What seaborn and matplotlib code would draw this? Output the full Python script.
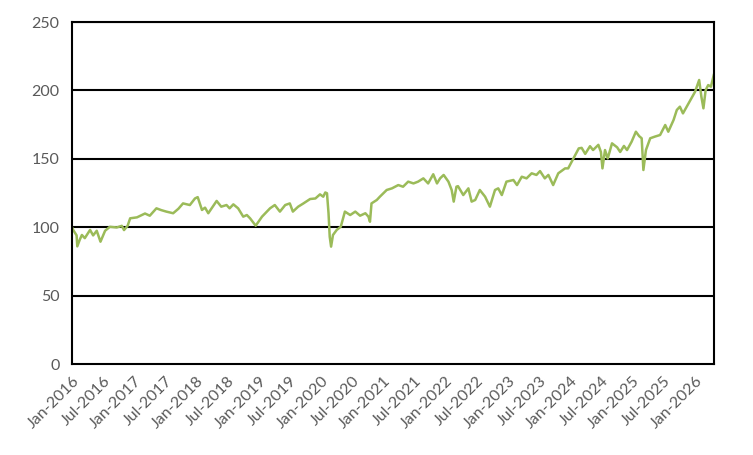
import matplotlib
matplotlib.use("Agg")
import matplotlib.pyplot as plt
import matplotlib.dates as mdates
import seaborn as sns
import pandas as pd

dates = [
    "2016-01-01", "2016-01-08", "2016-01-28", "2016-02-01", "2016-02-16", "2016-02-28",
    "2016-03-16", "2016-04-16", "2016-05-04", "2016-05-25", "2016-06-16", "2016-07-13",
    "2016-08-10", "2016-09-19", "2016-10-19", "2016-11-01", "2016-11-22", "2016-12-07",
    "2017-01-16", "2017-02-13", "2017-03-04", "2017-04-01", "2017-05-10", "2017-06-07",
    "2017-07-07", "2017-08-16", "2017-09-16", "2017-10-13", "2017-11-22", "2017-12-22",
    "2018-01-07", "2018-02-01", "2018-02-19", "2018-03-10", "2018-04-28", "2018-05-25",
    "2018-06-25", "2018-07-13", "2018-08-04", "2018-09-01", "2018-10-01", "2018-10-22",
    "2018-11-10", "2018-12-13", "2019-01-19", "2019-03-07", "2019-04-04", "2019-05-04",
    "2019-06-04", "2019-07-01", "2019-07-19", "2019-08-19", "2019-09-19", "2019-10-28",
    "2019-11-28", "2019-12-25", "2020-01-13", "2020-01-25", "2020-02-04", "2020-02-13",
    "2020-02-20", "2020-02-28", "2020-03-10", "2020-04-01", "2020-04-25", "2020-05-19",
    "2020-06-19", "2020-07-19", "2020-08-16", "2020-09-16", "2020-10-04", "2020-10-13",
    "2020-10-22", "2020-11-22", "2020-12-10", "2021-01-19", "2021-02-19", "2021-03-28",
    "2021-04-25", "2021-05-25", "2021-06-25", "2021-07-22", "2021-08-22", "2021-09-19",
    "2021-10-19", "2021-11-10", "2021-11-28", "2021-12-19", "2022-01-16", "2022-02-04",
    "2022-02-16", "2022-03-04", "2022-03-13", "2022-04-13", "2022-05-13", "2022-06-01",
    "2022-06-22", "2022-07-19", "2022-08-19", "2022-09-16", "2022-10-16", "2022-11-04",
    "2022-11-25", "2022-12-22", "2023-02-01", "2023-02-22", "2023-03-22", "2023-04-19",
    "2023-05-19", "2023-06-16", "2023-07-07", "2023-08-04", "2023-08-25", "2023-09-22",
    "2023-10-22", "2023-12-01", "2023-12-19", "2024-01-19", "2024-02-19", "2024-03-07",
    "2024-03-28", "2024-04-25", "2024-05-13", "2024-06-13", "2024-06-28", "2024-07-07",
    "2024-07-22", "2024-08-07", "2024-09-01", "2024-10-01", "2024-10-19", "2024-11-10",
    "2024-11-28", "2024-12-25", "2025-01-19", "2025-02-07", "2025-02-22", "2025-03-04",
    "2025-03-19", "2025-04-13", "2025-05-10", "2025-06-10", "2025-07-10", "2025-07-28",
    "2025-08-28", "2025-09-16", "2025-10-04", "2025-10-22", "2025-11-13", "2025-12-10",
    "2026-01-01", "2026-01-25", "2026-02-07", "2026-02-19", "2026-03-04", "2026-03-19",
    "2026-04-04", "2026-04-22",
]
values = [
    100, 98, 94, 86, 91, 94.3,
    92, 98, 94, 97.4, 89.4, 97.4,
    100.3, 99.8, 101, 97.9, 101, 106.5,
    107.2, 108.9, 110, 108.4, 113.8, 112.5,
    111.4, 110.2, 113.5, 117.4, 116.2, 121,
    122, 112.6, 114.3, 110.2, 119.2, 115,
    116.2, 113.8, 116.7, 113.8, 107.7, 108.9,
    106.5, 101.1, 107.7, 113.8, 116.2, 111.4,
    116.2, 117.4, 111.4, 115, 117.4, 120.6,
    121, 124, 122.3, 125.4, 124.8, 110.2,
    93, 85.8, 94.3, 98, 100.4, 111.4,
    108.9, 111.4, 108.4, 110.2, 107.7, 104,
    117.4, 119.9, 122.3, 127.2, 128.4, 130.8,
    129.6, 133.3, 132, 133.3, 135.7, 132,
    138.7, 132, 135.7, 138.2, 133.3, 127.2,
    118.7, 129.6, 130, 123.5, 128.4, 118.7,
    119.9, 127.2, 122.3, 115, 127.2, 128.4,
    123.5, 133.3, 134.5, 130.8, 136.9, 135.7,
    139.4, 138.2, 141, 135.7, 138.2, 130.8,
    139.4, 143, 143, 150.3, 157.6, 158,
    153.6, 159.2, 156.4, 160.2, 155, 143,
    156.4, 150.3, 161.3, 158.4, 155, 159.4,
    156.4, 162.5, 169.8, 166.6, 165, 141.8,
    156.4, 165, 166.2, 167.4, 174.7, 169.8,
    178.4, 185.7, 188.1, 183.2, 188.1, 194.2,
    199, 207.6, 195.4, 186.9, 200.2, 203.9,
    202.7, 212,
]
y_ticks = [0, 50, 100, 150, 200, 250]

df = pd.DataFrame({"date": pd.to_datetime(dates), "value": values})

sns.set_theme(style="white")
plt.rcParams["font.family"] = ["Lato", "DejaVu Sans"]

fig = plt.figure(figsize=(7.53, 4.55), dpi=100)
ax = fig.add_axes([72 / 753, 1 - 364 / 455, (714 - 72) / 753, (364 - 22) / 455])

sns.lineplot(data=df, x="date", y="value", ax=ax, color="#9BBB59", linewidth=1.8)

ax.set_xlim(pd.Timestamp("2016-01-01"), df["date"].iloc[-1])
ax.set_ylim(0, 250)
ax.set_yticks(y_ticks)
ax.xaxis.set_major_locator(mdates.MonthLocator(bymonth=[1, 7]))
ax.xaxis.set_major_formatter(mdates.DateFormatter("%b-%Y"))

for v in y_ticks[1:]:
    ax.axhline(v, color="black", linewidth=1.5, zorder=0)

for s in ax.spines.values():
    s.set_color("black")
    s.set_linewidth(1.5)
    s.set_visible(True)

ax.tick_params(axis="both", which="major", direction="out", length=5, width=1.5,
               color="black", labelcolor="#595959", labelsize=11.5)
ax.tick_params(axis="x", pad=2)
ax.tick_params(axis="y", pad=4)
plt.setp(ax.get_xticklabels(), rotation=45, ha="right", rotation_mode="anchor")
ax.set_xlabel("")
ax.set_ylabel("")
ax.grid(False)

fig.savefig("out.png", dpi=100)
